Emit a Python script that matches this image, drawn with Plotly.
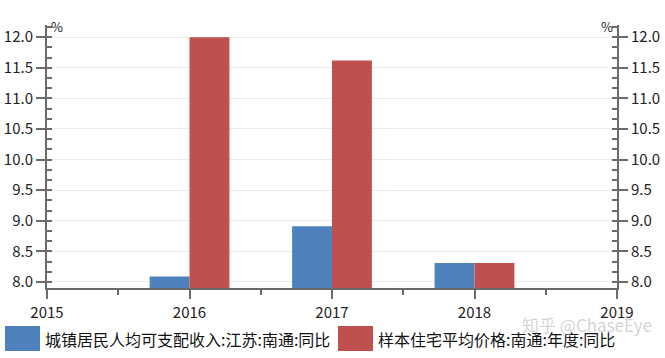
import plotly.graph_objects as go

years = [2016, 2017, 2018]
income_yoy = [8.09, 8.91, 8.31]
price_yoy = [12.0, 11.62, 8.31]
name_income = "城镇居民人均可支配收入:江苏:南通:同比"
name_price = "样本住宅平均价格:南通:年度:同比"
x_ticks = [2015, 2016, 2017, 2018, 2019]
y_ticks = [8.0, 8.5, 9.0, 9.5, 10.0, 10.5, 11.0, 11.5, 12.0]

BLUE = "#4F81BD"
RED = "#C0504D"
AXIS = "#6b6b6b"
FONT = "Noto Sans CJK SC"

fig = go.Figure()
fig.add_trace(go.Bar(x=years, y=income_yoy, name=name_income, marker_color=BLUE,
                     marker_line_width=0, yaxis="y"))
fig.add_trace(go.Bar(x=years, y=price_yoy, name=name_price, marker_color=RED,
                     marker_line_width=0, yaxis="y"))
# invisible trace to keep the right axis alive
fig.add_trace(go.Scatter(x=[years[0]], y=[price_yoy[0]], yaxis="y2", mode="markers",
                         marker_opacity=0, showlegend=False, hoverinfo="skip"))

yrange = [7.9, 12.2]
common_y = dict(
    range=yrange, tickvals=y_ticks, ticktext=[f"{v:.1f}" for v in y_ticks],
    ticks="outside", ticklen=9, tickwidth=2, tickcolor=AXIS,
    showline=True, linecolor=AXIS, linewidth=2,
    tickfont=dict(family=FONT, size=15, color="#222"),
    minor=dict(dtick=0.5/3, tick0=8.0, ticks="inside", ticklen=5, tickwidth=2,
               tickcolor=AXIS, showgrid=False),
    zeroline=False, fixedrange=True, automargin=False,
)

fig.update_layout(
    width=665, height=358,
    margin=dict(l=47, r=48, t=25, b=70),
    paper_bgcolor="white", plot_bgcolor="white",
    barmode="group", bargap=0.44, bargroupgap=0,
    showlegend=False,
    font=dict(family=FONT, size=14, color="#222"),
    xaxis=dict(
        range=[2015, 2019], tickvals=x_ticks, ticktext=[str(v) for v in x_ticks],
        ticks="outside", ticklen=9, tickwidth=2, tickcolor=AXIS,
        showline=True, linecolor=AXIS, linewidth=2,
        tickfont=dict(family=FONT, size=15, color="#222"),
        ticklabelstandoff=1,
        minor=dict(dtick=0.5, tick0=2015, ticks="outside", ticklen=5, tickwidth=2,
                   tickcolor=AXIS, showgrid=False),
        showgrid=False, zeroline=False, automargin=False, fixedrange=True,
    ),
    yaxis=dict(side="left", showgrid=True, gridcolor="#ececec", gridwidth=1, **common_y),
    yaxis2=dict(side="right", overlaying="y", showgrid=False, **common_y),
)

# unit labels
fig.add_annotation(text="%", xref="paper", yref="paper", x=0.003, y=1.0, xanchor="left",
                   yanchor="bottom", showarrow=False, font=dict(family=FONT, size=13, color="#222"),
                   yshift=-13)
fig.add_annotation(text="%", xref="paper", yref="paper", x=0.997, y=1.0, xanchor="right",
                   yanchor="bottom", showarrow=False, font=dict(family=FONT, size=13, color="#222"),
                   yshift=-13)

# custom legend (large swatches)
def px_x(p):
    return (p - 47) / 570.0

def px_y(p):
    return (288 - p) / 263.0

for x0, x1, col, txt, tx in [(5, 40, BLUE, name_income, 43), (338, 373, RED, name_price, 376)]:
    fig.add_shape(type="rect", xref="paper", yref="paper",
                  x0=px_x(x0), x1=px_x(x1), y0=px_y(326), y1=px_y(351),
                  fillcolor=col, line_width=0)
    fig.add_annotation(text=txt, xref="paper", yref="paper", x=px_x(tx), y=px_y(338.5),
                       xanchor="left", yanchor="middle", showarrow=False,
                       font=dict(family=FONT, size=16, color="#111"))

# watermark
fig.add_annotation(text="知乎 @ChaseEye", xref="paper", yref="paper", x=px_x(520), y=px_y(324),
                   xanchor="left", yanchor="middle", showarrow=False,
                   font=dict(family=FONT, size=17, color="rgba(170,170,170,0.5)"))

fig.write_html("out.html", config={"displayModeBar": False},
               post_script="document.body.style.margin='0';document.body.style.padding='0';document.body.style.overflow='hidden';")
